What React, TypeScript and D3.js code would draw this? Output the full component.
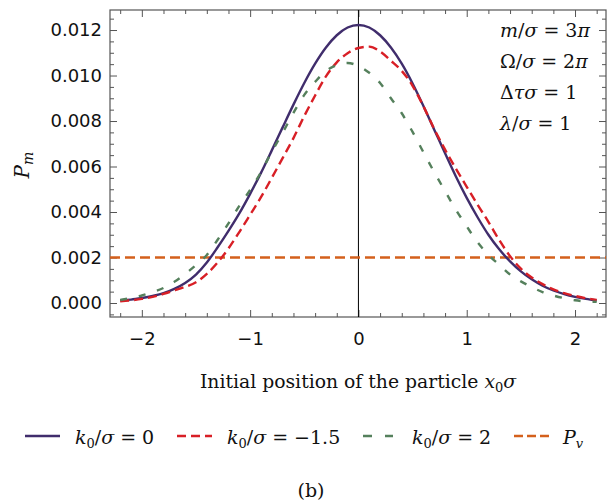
import { useRef, useEffect } from 'react';
import * as d3 from 'd3';

const xValues = [
  -2.2, -2.1, -2.0, -1.9, -1.8, -1.7, -1.6, -1.5, -1.4, -1.3, -1.2, -1.1, -1.0, -0.9, -0.8, -0.7, -0.6,
  -0.5, -0.4, -0.3, -0.2, -0.1, 0.0, 0.1, 0.2, 0.3, 0.4, 0.5, 0.6, 0.7, 0.8, 0.9, 1.0, 1.1, 1.2, 1.3,
  1.4, 1.5, 1.6, 1.7, 1.8, 1.9, 2.0, 2.1, 2.2,
];

const k0Zero = [
  0.00012, 0.00015, 0.00022, 0.00031, 0.00043, 0.00062, 0.00088, 0.00125, 0.00178, 0.00245, 0.00317,
  0.00394, 0.0048, 0.00572, 0.00671, 0.00772, 0.00872, 0.00967, 0.01052, 0.01123, 0.01177, 0.01211,
  0.01222, 0.01211, 0.01177, 0.01123, 0.01052, 0.00965, 0.00866, 0.00762, 0.00658, 0.00556, 0.00462,
  0.00377, 0.003, 0.00236, 0.00183, 0.00139, 0.00104, 0.00076, 0.00055, 0.00039, 0.00027, 0.00018,
  0.00011,
];

const k0Minus15 = [
  0.00008, 0.00012, 0.00018, 0.00027, 0.0004, 0.00055, 0.00071, 0.00091, 0.00128, 0.00178, 0.0024,
  0.00312, 0.00388, 0.00465, 0.0055, 0.00637, 0.00725, 0.00822, 0.00912, 0.00996, 0.01058, 0.01098,
  0.01121, 0.01127, 0.01106, 0.01065, 0.0102, 0.00955, 0.00865, 0.00765, 0.00674, 0.0059, 0.00511,
  0.00432, 0.00357, 0.00277, 0.00206, 0.00151, 0.00112, 0.00083, 0.0006, 0.00043, 0.00031, 0.00021,
  0.00014,
];

const k0Two = [
  0.00013, 0.00022, 0.00033, 0.00048, 0.00066, 0.00093, 0.00128, 0.00167, 0.00211, 0.00278, 0.0035,
  0.00427, 0.00497, 0.00575, 0.00665, 0.00748, 0.00836, 0.00915, 0.00972, 0.0102, 0.01045, 0.01055,
  0.01042, 0.01012, 0.00967, 0.009, 0.00834, 0.00752, 0.00663, 0.00575, 0.00492, 0.0041, 0.00337,
  0.00267, 0.00212, 0.00168, 0.00125, 0.00095, 0.0007, 0.00048, 0.00033, 0.00021, 0.00012, 0.00007,
  0.00005,
];

const pvLevel = 0.002;

const xMajorTicks = [-2, -1, 0, 1, 2];
const xMinorTicks = [-2.2, -1.8, -1.6, -1.4, -1.2, -0.8, -0.6, -0.4, -0.2, 0.2, 0.4, 0.6, 0.8, 1.2, 1.4, 1.6, 1.8, 2.2];
const yMajorTicks = [0, 0.002, 0.004, 0.006, 0.008, 0.01, 0.012];
const yMinorTicks = [
  -0.0005, 0.0005, 0.001, 0.0015, 0.0025, 0.003, 0.0035, 0.0045, 0.005, 0.0055, 0.0065, 0.007, 0.0075,
  0.0085, 0.009, 0.0095, 0.0105, 0.011, 0.0115, 0.0125,
];

const series = [
  { key: 'k0', values: k0Zero, color: '#402d6c', dash: null as string | null, legend: '0' },
  { key: 'k1', values: k0Minus15, color: '#d81f26', dash: '9,5', legend: '\u22121.5' },
  { key: 'k2', values: k0Two, color: '#55805c', dash: '7,12', legend: '2' },
];

const params = [
  [['m', 'i'], ['/', 'n'], ['σ', 'i'], ['=', 'e'], ['3', 'r'], ['π', 'i']],
  [['Ω', 'n'], ['/', 'n'], ['σ', 'i'], ['=', 'e'], ['2', 'r'], ['π', 'i']],
  [['Δ', 'n'], ['τσ', 'i'], ['=', 'e'], ['1', 'r']],
  [['λ', 'i'], ['/', 'n'], ['σ', 'i'], ['=', 'e'], ['1', 'r']],
];

const W = 608;
const H = 504;
const SERIF = '"DejaVu Serif", serif';
const SANS = '"DejaVu Sans", sans-serif';

export default function App() {
  const svgRef = useRef<SVGSVGElement>(null);

  useEffect(() => {
    if (!svgRef.current) return;
    const svg = d3.select(svgRef.current);
    svg.selectAll('*').remove();

    const left = 110;
    const right = 606;
    const top = 10;
    const bottom = 317;

    const x = d3.scaleLinear().domain([-2.294, 2.286]).range([left, right]);
    const y = d3.scaleLinear().domain([-0.000615, 0.01288]).range([bottom, top]);

    svg
      .append('defs')
      .append('clipPath')
      .attr('id', 'plot-clip')
      .append('rect')
      .attr('x', left)
      .attr('y', top)
      .attr('width', right - left)
      .attr('height', bottom - top);

    // axes with inward ticks, Mathematica style
    const styleAxis = (g: d3.Selection<SVGGElement, unknown, null, undefined>) => {
      g.select('.domain').remove();
      g.selectAll('.tick line').attr('stroke', '#555').attr('stroke-width', 1);
      g.selectAll('.tick text')
        .attr('fill', '#111')
        .style('font-family', SANS)
        .style('font-size', '18px');
    };

    svg
      .append('g')
      .attr('transform', `translate(0,${bottom})`)
      .call(d3.axisBottom(x).tickValues(xMajorTicks).tickSize(-7).tickPadding(15).tickFormat((d) => d3.format('d')(+d).replace('-', '\u2212')))
      .call(styleAxis);
    svg
      .append('g')
      .attr('transform', `translate(0,${bottom})`)
      .call(d3.axisBottom(x).tickValues(xMinorTicks).tickSize(-4).tickFormat(() => ''))
      .call(styleAxis);
    svg
      .append('g')
      .attr('transform', `translate(0,${top})`)
      .call(d3.axisTop(x).tickValues(xMajorTicks).tickSize(-7).tickFormat(() => ''))
      .call(styleAxis);
    svg
      .append('g')
      .attr('transform', `translate(0,${top})`)
      .call(d3.axisTop(x).tickValues(xMinorTicks).tickSize(-4).tickFormat(() => ''))
      .call(styleAxis);

    svg
      .append('g')
      .attr('transform', `translate(${left},0)`)
      .call(d3.axisLeft(y).tickValues(yMajorTicks).tickSize(-7).tickPadding(8).tickFormat(d3.format('.3f')))
      .call(styleAxis);
    svg
      .append('g')
      .attr('transform', `translate(${left},0)`)
      .call(d3.axisLeft(y).tickValues(yMinorTicks).tickSize(-4).tickFormat(() => ''))
      .call(styleAxis);
    svg
      .append('g')
      .attr('transform', `translate(${right},0)`)
      .call(d3.axisRight(y).tickValues(yMajorTicks).tickSize(-7).tickFormat(() => ''))
      .call(styleAxis);
    svg
      .append('g')
      .attr('transform', `translate(${right},0)`)
      .call(d3.axisRight(y).tickValues(yMinorTicks).tickSize(-4).tickFormat(() => ''))
      .call(styleAxis);

    // frame
    svg
      .append('rect')
      .attr('x', left)
      .attr('y', top)
      .attr('width', right - left)
      .attr('height', bottom - top)
      .attr('fill', 'none')
      .attr('stroke', '#555')
      .attr('stroke-width', 1.2);

    const plot = svg.append('g').attr('clip-path', 'url(#plot-clip)');

    // x = 0 axis line
    plot
      .append('line')
      .attr('x1', x(0))
      .attr('x2', x(0))
      .attr('y1', top)
      .attr('y2', bottom)
      .attr('stroke', '#000')
      .attr('stroke-width', 1);

    // P_v level
    plot
      .append('line')
      .attr('x1', left)
      .attr('x2', right)
      .attr('y1', y(pvLevel))
      .attr('y2', y(pvLevel))
      .attr('stroke', '#d4601c')
      .attr('stroke-width', 2.4)
      .attr('stroke-dasharray', '10,5');

    const line = d3
      .line<number>()
      .x((_, i) => x(xValues[i]))
      .y((d) => y(d))
      .curve(d3.curveMonotoneX);

    series.forEach((s) => {
      plot
        .append('path')
        .datum(s.values)
        .attr('d', line)
        .attr('fill', 'none')
        .attr('stroke', s.color)
        .attr('stroke-width', 2.4)
        .attr('stroke-dasharray', s.dash);
    });

    // parameter box
    const ann = svg.append('g').style('font-family', SERIF).style('font-size', '19px').attr('fill', '#111');
    const baselines = [37, 68, 99, 130];
    params.forEach((parts, i) => {
      const t = ann.append('text').attr('x', 500).attr('y', baselines[i]);
      parts.forEach(([s, st]) => {
        t.append('tspan')
          .style('font-style', st === 'i' ? 'italic' : 'normal')
          .attr('dx', st === 'e' || st === 'r' ? 6 : 0)
          .text(s);
      });
    });

    // y label
    const yl = svg
      .append('text')
      .attr('transform', `translate(29,165) rotate(-90)`)
      .attr('text-anchor', 'middle')
      .style('font-family', SERIF)
      .style('font-size', '20px')
      .style('font-style', 'italic')
      .attr('fill', '#111');
    yl.append('tspan').text('P');
    yl.append('tspan').attr('dy', 4).style('font-size', '14px').text('m');

    // x label
    const xl = svg
      .append('text')
      .attr('x', 358)
      .attr('y', 388)
      .attr('text-anchor', 'middle')
      .style('font-family', SERIF)
      .style('font-size', '18.8px')
      .attr('fill', '#111');
    xl.append('tspan').text('Initial position of the particle ');
    xl.append('tspan').style('font-style', 'italic').text('x');
    xl.append('tspan').attr('dy', 4).style('font-size', '13px').text('0');
    xl.append('tspan').attr('dy', -4).style('font-style', 'italic').text('σ');

    // legend
    const legendY = 436;
    const items = [
      { color: series[0].color, dash: series[0].dash, x0: 25, x1: 60, tx: 75, label: series[0].legend },
      { color: series[1].color, dash: series[1].dash, x0: 177, x1: 212, tx: 227, label: series[1].legend },
      { color: series[2].color, dash: '9,13', x0: 363, x1: 393, tx: 412, label: series[2].legend },
      { color: '#d4601c', dash: '9,4', x0: 514, x1: 550, tx: 563, label: null as string | null },
    ];
    const lg = svg.append('g').style('font-family', SERIF).style('font-size', '19px').attr('fill', '#111');
    items.forEach((it) => {
      lg.append('line')
        .attr('x1', it.x0)
        .attr('x2', it.x1)
        .attr('y1', legendY)
        .attr('y2', legendY)
        .attr('stroke', it.color)
        .attr('stroke-width', 2.6)
        .attr('stroke-dasharray', it.dash);
      const t = lg.append('text').attr('x', it.tx).attr('y', legendY + 8);
      if (it.label === null) {
        t.append('tspan').style('font-style', 'italic').text('P');
        t.append('tspan').attr('dy', 4).style('font-size', '13px').style('font-style', 'italic').text('v');
      } else {
        t.append('tspan').style('font-style', 'italic').text('k');
        t.append('tspan').attr('dy', 4).style('font-size', '13px').text('0');
        t.append('tspan').attr('dy', -4).text('/');
        t.append('tspan').style('font-style', 'italic').text('σ');
        t.append('tspan').attr('dx', 6).text('=');
        t.append('tspan').attr('dx', 6).text(it.label);
      }
    });

    svg
      .append('text')
      .attr('x', 311)
      .attr('y', 497)
      .attr('text-anchor', 'middle')
      .style('font-family', SERIF)
      .style('font-size', '19px')
      .attr('fill', '#111')
      .text('(b)');
  }, []);

  return (
    <div style={{ position: 'absolute', left: 0, top: 0, width: W, height: H, background: '#fff' }}>
      <svg ref={svgRef} width={W} height={H} style={{ display: 'block' }} />
    </div>
  );
}
